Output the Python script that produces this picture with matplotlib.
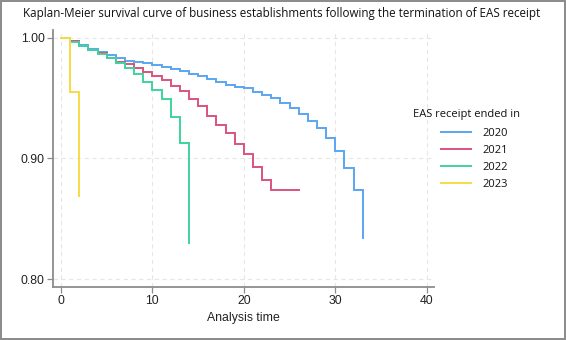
import matplotlib
matplotlib.use("Agg")
import matplotlib.pyplot as plt
from matplotlib.patches import Rectangle

# ---- data ----
years = ["2020", "2021", "2022", "2023"]

t_2020 = list(range(0, 34))
s_2020 = [1.000, 0.997, 0.994, 0.991, 0.988, 0.9855, 0.9835, 0.981, 0.980, 0.979,
          0.977, 0.9755, 0.974, 0.9725, 0.970, 0.968, 0.966, 0.9635, 0.961, 0.9595,
          0.958, 0.955, 0.9525, 0.950, 0.9456, 0.942, 0.937, 0.931, 0.925, 0.9166,
          0.906, 0.892, 0.8737, 0.834]

t_2021 = list(range(0, 24)) + [26]
s_2021 = [1.000, 0.997, 0.993, 0.990, 0.987, 0.983, 0.980, 0.978, 0.975, 0.972,
          0.968, 0.965, 0.960, 0.9555, 0.949, 0.943, 0.935, 0.928, 0.921, 0.912,
          0.904, 0.893, 0.882, 0.874, 0.874]

t_2022 = list(range(0, 15))
s_2022 = [1.000, 0.9965, 0.993, 0.9895, 0.9865, 0.983, 0.979, 0.975, 0.970, 0.9635,
          0.957, 0.949, 0.9345, 0.913, 0.830]

t_2023 = [0, 1, 2]
s_2023 = [1.000, 0.955, 0.869]

x_ticks = [0, 10, 20, 30, 40]
y_ticks = [0.80, 0.90, 1.00]
y_tick_labels = ["0.80", "0.90", "1.00"]

colors = ["#5aa6f2", "#d9537e", "#3ed39e", "#f7dc45"]

title = "Kaplan-Meier survival curve of business establishments following the termination of EAS receipt"
legend_title = "EAS receipt ended in"

# ---- figure ----
fig = plt.figure(figsize=(5.66, 3.40), dpi=100)
ax = fig.add_axes([53/566, 1-287/340, (434-53)/566, (287-30)/340])

series = [(t_2020, s_2020), (t_2021, s_2021), (t_2022, s_2022), (t_2023, s_2023)]
for (t, s), c, lab in zip(series, colors, years):
    ax.step(t, s, where="post", color=c, lw=1.4, label=lab, solid_joinstyle="miter")

ax.set_xlim(-0.875, 40.8)
ax.set_ylim(0.7934, 1.0064)
ax.set_xticks(x_ticks)
ax.set_yticks(y_ticks)
ax.set_yticklabels(y_tick_labels)

tick_font = "Liberation Sans"
for lbl in ax.get_xticklabels() + ax.get_yticklabels():
    lbl.set_fontfamily(tick_font)
    lbl.set_fontsize(8.8)
    lbl.set_color("#222222")

ax.grid(True, color="#e6e6e6", linestyle=(0, (4, 3)), lw=0.8)
ax.set_axisbelow(True)
for side in ["top", "right"]:
    ax.spines[side].set_visible(False)
for side in ["left", "bottom"]:
    ax.spines[side].set_color("#8c8c8c")
    ax.spines[side].set_linewidth(1.3)
ax.tick_params(axis="both", direction="out", length=4, width=0.9, color="#8c8c8c", pad=2)

ax.set_xlabel("Analysis time", fontfamily=tick_font, fontsize=8.8, color="#222222", labelpad=3)

fig.text(23/566, 1-13/340, title, fontfamily="Open Sans", fontsize=8.4,
         ha="left", va="center", color="#111111")

fig.text(413/566, 1-115/340, legend_title, fontfamily="Open Sans", fontsize=8,
         ha="left", va="center", color="#111111")
leg = fig.legend(loc="upper left", bbox_to_anchor=(441/566, 1-128/340), frameon=False,
                 prop={"family": "Open Sans", "size": 8}, handlelength=2.7,
                 handletextpad=1.0, labelspacing=0.55, borderpad=0.0, borderaxespad=0.0)
for txt in leg.get_texts():
    txt.set_color("#111111")

# outer frame
fig.add_artist(Rectangle((0.001, 0.002), 0.997, 0.996, transform=fig.transFigure,
                         fill=False, edgecolor="#8a8a8a", lw=1.4))

fig.savefig("out.png", dpi=100)
